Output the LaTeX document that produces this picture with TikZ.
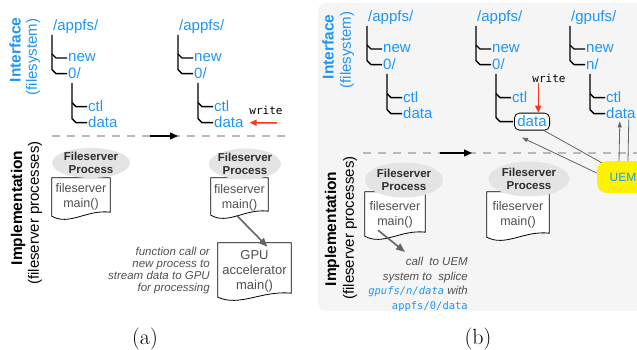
\documentclass[tikz,border=0pt]{standalone}
\usepackage{fontspec}
\setsansfont{Liberation Sans}
\setmonofont{DejaVu Sans Mono}
\usetikzlibrary{arrows.meta,calc,shapes.geometric}
\definecolor{fsblue}{RGB}{30,150,245}
\definecolor{wred}{RGB}{250,55,30}
\definecolor{bgb}{RGB}{245,245,245}
\definecolor{ellgray}{RGB}{228,228,228}
\definecolor{doctxt}{RGB}{80,80,80}
\definecolor{elltxt}{RGB}{45,45,45}
\definecolor{agray}{RGB}{100,100,100}
\definecolor{dashgray}{RGB}{185,185,185}

\newcommand\fstree[6]{%
  \node[fsname] (#1root) at (#2,#3) {#4};
  \node[fsname] (#1new) at (#2+15,#3+31) {new};
  \node[fsname] (#1sub) at (#2+15,#3+48) {#5};
  \node[fsname] (#1ctl) at (#2+35,#3+81) {ctl};
  \node[fsname,#6] (#1data) at (#2+35,#3+97) {data};
  \coordinate (#1va) at (#2-1,#3+4);
  \coordinate (#1vb) at (#2+19,#3+52);
  \draw[treeline] (#1va) -- ($(#1va |- #1sub.west)+(0,-4)$) -- ($(#1va |- #1sub.west)+(4,0)$) -- ($(#1sub.west)+(-1,0)$);
  \draw[treeline] ($(#1va |- #1new.west)+(0,-4)$) -- ($(#1va |- #1new.west)+(4,0)$) -- ($(#1new.west)+(-1,0)$);
  \draw[treeline] (#1vb) -- ($(#1vb |- #1data.west)+(0,-4)$) -- ($(#1vb |- #1data.west)+(4,0)$) -- ($(#1data.west)+(-1,0)$);
  \draw[treeline] ($(#1vb |- #1ctl.west)+(0,-4)$) -- ($(#1vb |- #1ctl.west)+(4,0)$) -- ($(#1ctl.west)+(-1,0)$);
}
\newcommand\docshape[1]{%
  \draw[docline] (#1.south west) -- (#1.north west) -- (#1.north east) -- ($(#1.south east)+(0,-4)$)
    .. controls ($(#1.south west)!0.6!(#1.south east)+(0,-7)$) and ($(#1.south west)!0.3!(#1.south east)+(0,10)$) .. (#1.south west) -- cycle;
}

\begin{document}
\begin{tikzpicture}[x=1pt,y=-1pt,font=\sffamily,
  fsname/.style={inner sep=0pt, anchor=base west, text=fsblue, font=\sffamily\fontsize{15}{17}\selectfont},
  treeline/.style={line width=1.3pt, black, line join=round},
  databox/.style={draw=black, line width=0.8pt, rounded corners=5pt, fill=white, inner xsep=3pt, inner ysep=3pt, xshift=2pt, yshift=-8pt},
  docbox/.style={inner sep=0pt, align=center, text=doctxt, font=\sffamily\fontsize{12.5}{15.5}\selectfont},
  docline/.style={draw=black, line width=0.8pt, fill=white},
  procell/.style={ellipse, fill=ellgray, inner xsep=-2pt, inner ysep=-0.5pt, align=center, text=elltxt, font=\sffamily\bfseries\fontsize{11.5}{13.5}\selectfont},
  blackarrow/.style={black, line width=1.4pt, -{Triangle[length=8pt,width=7pt]}},
  redarrow/.style={wred, line width=1.5pt, -{Triangle[length=7pt,width=6pt]}},
  grayarrow/.style={agray, line width=1.6pt, -{Triangle[length=9pt,width=7pt]}},
  thinarrow/.style={agray, line width=0.8pt, -{Triangle[length=6pt,width=4pt]}},
  thinline/.style={agray, line width=0.8pt},
  dashline/.style={dashgray, line width=1.3pt, dash pattern=on 8pt off 7pt},
  writefont/.style={inner sep=0pt, font=\ttfamily\fontsize{11}{13}\selectfont},
  notefont/.style={inner sep=0pt, align=right, text=doctxt, font=\sffamily\itshape\fontsize{11.5}{12}\selectfont},
  labbold/.style={rotate=90, inner sep=0pt, font=\sffamily\bfseries\fontsize{15.5}{18}\selectfont},
  labreg/.style={rotate=90, inner sep=0pt, font=\sffamily\fontsize{15}{18}\selectfont},
  captext/.style={inner sep=0pt, font=\rmfamily\fontsize{22}{26}\selectfont}
]
\useasboundingbox (0,0) rectangle (637,350);

% panel (b) background
\fill[bgb, rounded corners=8pt] (318,3) rectangle (660,311);

% ---------- side labels ----------
\node[labbold, text=fsblue] (aint) at (15,50) {Interface};
\node[labreg, text=fsblue] (afs) at (33,57) {(filesystem)};
\node[labbold] (aimp) at (18,208) {Implementation};
\node[labreg] (afsp) at (35,213) {(fileserver processes)};
\node[labbold, text=fsblue] (bint) at (328,47) {Interface};
\node[labreg, text=fsblue] (bfs) at (347,50) {(filesystem)};
\node[labbold] (bimp) at (332,229) {Implementation};
\node[labreg] (bfsp) at (350,228) {(fileserver processes)};

% ---------- dashed separators and transition arrows ----------
\coordinate (dA1) at (52,136); \coordinate (dA2) at (292,136);
\draw[dashline] (dA1) -- (dA2);
\coordinate (arA1) at (150,136); \coordinate (arA2) at (178,136);
\draw[blackarrow] (arA1) -- (arA2);
\coordinate (dB1) at (363,153); \coordinate (dB2) at (640,153);
\draw[dashline] (dB1) -- (dB2);
\coordinate (arB1) at (440,153); \coordinate (arB2) at (472,153);
\draw[blackarrow] (arB1) -- (arB2);

% ---------- filesystem trees ----------
\fstree{ta}{53}{31}{/appfs/}{0/}{}
\fstree{tb}{179}{31}{/appfs/}{0/}{}
\fstree{tc}{368}{22}{/appfs/}{0/}{}
\fstree{td}{477}{22}{/appfs/}{0/}{databox}
\fstree{te}{571}{22}{/gpufs/}{n/}{}

% ---------- write arrows ----------
\node[writefont] (wa) at (266,110) {write};
\coordinate (wastart) at (277,123);
\draw[redarrow] (wastart) -- ($(tbdata.east)+(6,0)$);
\node[writefont] (wb) at (549,78) {write};
\coordinate (wbs) at ($(wb.south west)+(6,1)$);
\draw[redarrow] (wbs) -- (wbs |- tddata.north);

% ---------- documents (fileserver main) ----------
\node[docbox, minimum width=58pt, minimum height=38pt] (a1doc) at (81,197) {};
\docshape{a1doc}
\node[docbox] (a1doctxt) at (81,197) {fileserver\\main()};
\node[docbox, minimum width=57pt, minimum height=37pt] (a2doc) at (239.5,196.5) {};
\docshape{a2doc}
\node[docbox] (a2doctxt) at (239.5,198) {fileserver\\main()};
\node[docbox, minimum width=73pt, minimum height=54pt] (gpudoc) at (254.5,270) {};
\docshape{gpudoc}
\node[docbox, font=\sffamily\fontsize{13}{15}\selectfont] (gputxt) at (254.5,271) {GPU\\accelerator\\main()};
\node[docbox, minimum width=60pt, minimum height=44pt] (b1doc) at (395,214) {};
\docshape{b1doc}
\node[docbox] (b1doctxt) at (395,215) {fileserver\\main()};
\node[docbox, minimum width=62pt, minimum height=45pt] (b2doc) at (518,214.5) {};
\docshape{b2doc}
\node[docbox] (b2doctxt) at (518,215) {fileserver\\main()};

% ---------- process ellipses ----------
\node[procell, minimum width=78pt, minimum height=30pt] (a1proc) at (91,163) {Fileserver\\Process};
\node[procell, minimum width=72pt, minimum height=31pt] (a2proc) at (245,164) {Fileserver\\Process};
\node[procell, minimum width=78pt, minimum height=35pt] (b1proc) at (404,180) {Fileserver\\Process};
\node[procell, minimum width=81pt, minimum height=35pt] (b2proc) at (529,179) {Fileserver\\Process};

% ---------- panel (a) GPU call ----------
\draw[grayarrow] ($(a2doc.south)+(-3,0)$) -- ($(gpudoc.north)+(13,4)$);
\node[notefont, anchor=north east] (notea) at (210,247) {function call or\\new process to\\stream data to GPU\\for processing};

% ---------- panel (b) UEM ----------
\coordinate (callto) at (405,252);
\draw[grayarrow] ($(b1doc.south)+(-17,-6)$) -- (callto);
\node[notefont, anchor=north east, font=\sffamily\itshape\fontsize{11.5}{14.5}\selectfont] (noteb) at (468,257)
  {call\ \ to UEM\\system to\ \ splice\\{\color{fsblue}\ttfamily\itshape\fontsize{10.5}{12}\selectfont gpufs/n/data} with\\{\color{fsblue}\ttfamily\upshape\fontsize{10.5}{12}\selectfont appfs/0/data}};

\node[fill=yellow, rounded corners=10pt, minimum width=52pt, minimum height=32pt, inner sep=0pt, text=fsblue, font=\sffamily\fontsize{12}{14}\selectfont] (uem) at (623,177) {UEM};
\draw[thinline] ($(tddata.south east)+(-6,0)$) -- ($(uem.north west)+(5,2)$);
\draw[thinarrow] ($(uem.west)+(0,-4)$) -- ($(tddata.south west)+(8,7)$);
\draw[thinarrow] ($(uem.north)+(-4,0)$) -- ($(tedata.south)+(-1,2)$);
\draw[thinline] ($(tedata.south)+(8,0)$) -- ($(uem.north)+(5,0)$);

% ---------- captions ----------
\node[captext] (capa) at (145,339) {(a)};
\node[captext] (capb) at (478,339) {(b)};
\end{tikzpicture}
\end{document}
